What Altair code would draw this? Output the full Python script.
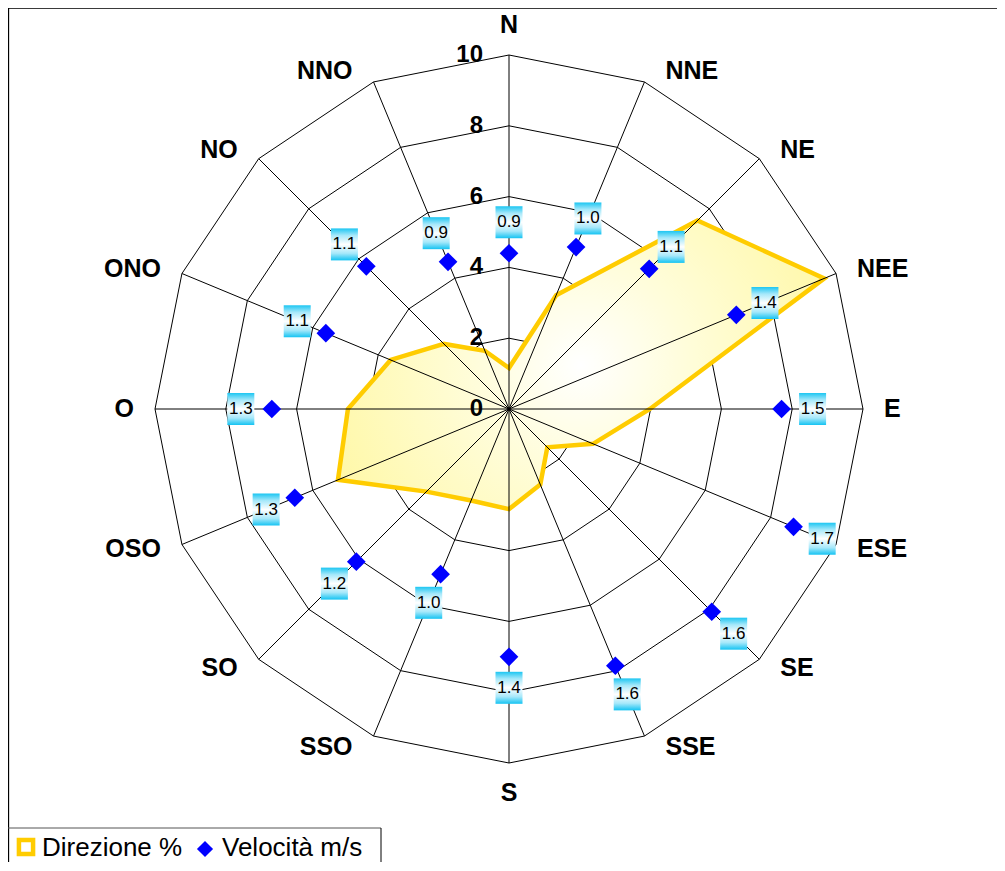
import altair as alt
import pandas as pd

# ---------------- data ----------------
directions = ["N", "NNE", "NE", "NEE", "E", "ESE", "SE", "SSE",
              "S", "SSO", "SO", "OSO", "O", "ONO", "NO", "NNO"]
direzione_pct = [1.16, 3.48, 7.53, 9.64, 3.98, 2.57, 1.53, 2.31,
                 2.83, 2.80, 3.30, 5.23, 4.55, 3.62, 2.60, 1.78]
velocita_ms = [0.88, 0.99, 1.12, 1.39, 1.54, 1.74, 1.62, 1.57,
               1.40, 1.01, 1.22, 1.31, 1.34, 1.12, 1.14, 0.90]
radial_ticks = [0, 2, 4, 6, 8, 10]
series_names = ["Direzione %", "Velocità m/s"]
radial_max = 10
velocity_axis_max = 2

# ---------------- layout ----------------
W, H = 989, 854
CX, CY = 501, 401
R = 354
U = R / radial_max
VK = radial_max / velocity_axis_max
FONT = "Liberation Sans"

n = len(directions)
df = pd.DataFrame({"idx": list(range(n)), "dir": directions,
                   "pct": direzione_pct, "vel": velocita_ms})
ring_df = pd.DataFrame([{"level": lv, "idx": i}
                        for lv in radial_ticks if lv > 0 for i in range(n)])
tick_df = pd.DataFrame({"t": radial_ticks})
leg_df = pd.DataFrame({"serie": series_names, "k": [0, 1]})
one_df = pd.DataFrame({"k": [0]})

xs = alt.Scale(domain=[-radial_max, radial_max], range=[CX - R, CX + R], nice=False, zero=False)
ys = alt.Scale(domain=[-radial_max, radial_max], range=[CY + R, CY - R], nice=False, zero=False)


def X(f):
    return alt.X(f"{f}:Q", scale=xs, axis=None)


def Y(f):
    return alt.Y(f"{f}:Q", scale=ys, axis=None)


ANG = f"(datum.idx*2*PI/{n})"
S = f"sin{ANG}"
C = f"cos{ANG}"

GS = alt.GradientStop

rings = alt.Chart(ring_df).transform_calculate(
    x=f"datum.level*{S}", y=f"datum.level*{C}"
).mark_line(interpolate="linear-closed", color="#000000", strokeWidth=1).encode(
    x=X("x"), y=Y("y"), detail="level:N", order="idx:Q")

poly_fill = alt.RadialGradient(
    gradient="radial",
    stops=[GS(color="#FFFFFF", offset=0), GS(color="#FFFDDA", offset=0.4),
           GS(color="#FFF8A8", offset=1)],
    x1=0.5, y1=0.5, r1=0, x2=0.5, y2=0.5, r2=0.55)

poly = alt.Chart(df).transform_calculate(
    x=f"datum.pct*{S}", y=f"datum.pct*{C}"
).mark_line(interpolate="linear-closed", stroke="#FFCC00", strokeWidth=4.5,
            strokeJoin="miter", fill=poly_fill).encode(
    x=X("x"), y=Y("y"), order="idx:Q")

spokes = alt.Chart(df).transform_calculate(
    x0="0", y0="0", x1=f"{radial_max}*{S}", y1=f"{radial_max}*{C}"
).mark_rule(color="#000000", strokeWidth=1).encode(
    x=X("x0"), y=Y("y0"), x2="x1:Q", y2="y1:Q")

markers = alt.Chart(df).transform_calculate(
    x=f"{VK}*datum.vel*{S}", y=f"{VK}*datum.vel*{C}"
).mark_point(shape="diamond", filled=True, color="#0000FF", size=350, opacity=1).encode(
    x=X("x"), y=Y("y"))

LOFF = 31 / U
BW = 13.5 / U
BH = 16 / U
lab = alt.Chart(df).transform_calculate(
    lr=f"{VK}*datum.vel+{LOFF}"
).transform_calculate(
    lx=f"datum.lr*{S}", ly=f"datum.lr*{C}"
).transform_calculate(
    bx1=f"datum.lx-{BW}", bx2=f"datum.lx+{BW}",
    by1=f"datum.ly-{BH}", by2=f"datum.ly+{BH}")

box_grad = alt.LinearGradient(
    gradient="linear",
    stops=[GS(color="#1CC6F2", offset=0), GS(color="#A6E8FA", offset=0.22),
           GS(color="#FFFFFF", offset=0.5), GS(color="#A6E8FA", offset=0.78),
           GS(color="#14C3F2", offset=1)],
    x1=0, y1=0, x2=0, y2=1)

boxes = lab.mark_rect(fill=box_grad, strokeWidth=0).encode(
    x=X("bx1"), x2="bx2:Q", y=Y("by1"), y2="by2:Q")
btxt = lab.mark_text(font=FONT, fontSize=17, color="#000000", align="center",
                     baseline="middle").encode(
    x=X("lx"), y=Y("ly"), text=alt.Text("vel:Q", format=".1f"))

ticks_txt = alt.Chart(tick_df).transform_calculate(x0="0").mark_text(
    font=FONT, fontSize=24, fontWeight="bold", align="right", baseline="middle",
    dx=-26, color="#000000").encode(x=X("x0"), y=Y("t"), text="t:Q")

GAP = 21 / U
dir_base = alt.Chart(df).transform_calculate(s=S, c=C)
dir_style = dict(font=FONT, fontSize=25, fontWeight="bold", color="#000000", baseline="middle")
dir_right = dir_base.transform_filter("datum.s > 0.01").transform_calculate(
    lx=f"{radial_max}*datum.s+{GAP}", ly=f"{radial_max + 0.34}*datum.c"
).mark_text(align="left", **dir_style).encode(x=X("lx"), y=Y("ly"), text="dir:N")
dir_left = dir_base.transform_filter("datum.s < -0.01").transform_calculate(
    lx=f"{radial_max}*datum.s-{GAP}", ly=f"{radial_max + 0.34}*datum.c"
).mark_text(align="right", **dir_style).encode(x=X("lx"), y=Y("ly"), text="dir:N")
dir_center = dir_base.transform_filter("abs(datum.s) <= 0.01").transform_calculate(
    lx="0", ly=f"{radial_max + 0.84}*datum.c"
).mark_text(align="center", **dir_style).encode(x=X("lx"), y=Y("ly"), text="dir:N")

# frame and legend
frame_top = alt.Chart(one_df).mark_rule(color="#3A3A3A", strokeWidth=2).encode(
    x=alt.value(0), x2=alt.value(W), y=alt.value(0))
frame_left = alt.Chart(one_df).mark_rule(color="#000000", strokeWidth=1.3).encode(
    x=alt.value(0.5), y=alt.value(0), y2=alt.value(H))
leg_top = alt.Chart(one_df).mark_rule(color="#555555", strokeWidth=1).encode(
    x=alt.value(0), x2=alt.value(373), y=alt.value(820))
leg_right = alt.Chart(one_df).mark_rule(color="#000000", strokeWidth=1).encode(
    x=alt.value(373), y=alt.value(820), y2=alt.value(H))

leg_sq = alt.Chart(leg_df).transform_filter("datum.k == 0").mark_square(
    fill="#FFFFFF", stroke="#FFCC00", strokeWidth=4.5, size=200, opacity=1).encode(
    x=alt.value(18), y=alt.value(839))
leg_dm = alt.Chart(leg_df).transform_filter("datum.k == 1").mark_point(
    shape="diamond", filled=True, color="#0000FF", size=260, opacity=1).encode(
    x=alt.value(197), y=alt.value(841))
leg_t1 = alt.Chart(leg_df).transform_filter("datum.k == 0").mark_text(
    font=FONT, fontSize=26, align="left", baseline="alphabetic", color="#000000").encode(
    x=alt.value(34), y=alt.value(848), text="serie:N")
leg_t2 = alt.Chart(leg_df).transform_filter("datum.k == 1").mark_text(
    font=FONT, fontSize=26, align="left", baseline="alphabetic", color="#000000").encode(
    x=alt.value(214), y=alt.value(848), text="serie:N")

chart = alt.layer(
    rings, poly, spokes, boxes, markers, btxt, ticks_txt,
    dir_right, dir_left, dir_center,
    frame_top, frame_left, leg_top, leg_right, leg_sq, leg_dm, leg_t1, leg_t2
).properties(
    width=W, height=H, padding=0, autosize=alt.AutoSizeParams(type="none")
).configure_view(strokeOpacity=0)

chart.save("out.html", embed_options={"renderer": "svg", "actions": False})
